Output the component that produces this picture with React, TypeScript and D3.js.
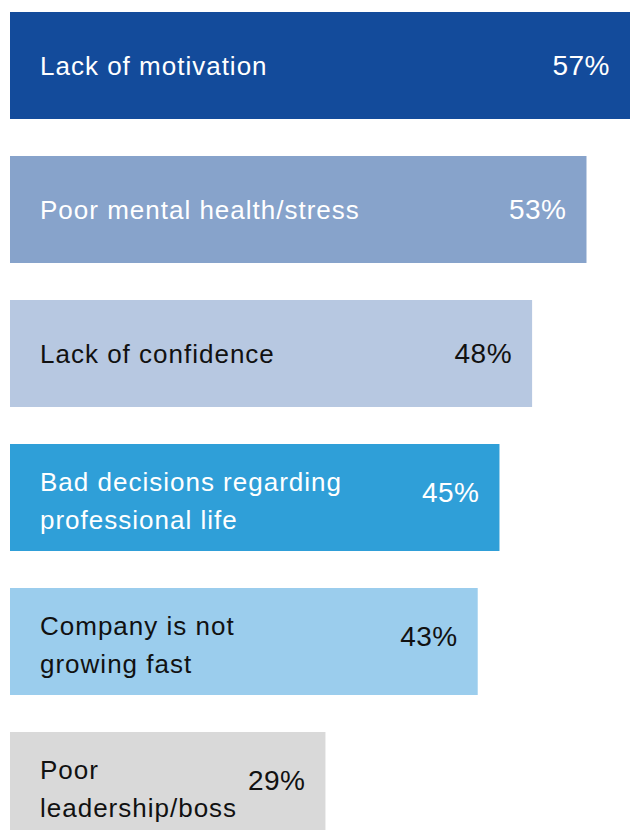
import React from "react";
import * as d3 from "d3";

const categories: string[] = [
  "Lack of motivation",
  "Poor mental health/stress",
  "Lack of confidence",
  "Bad decisions regarding professional life",
  "Company is not growing fast",
  "Poor leadership/boss",
];
const labelLines: string[][] = [
  ["Lack of motivation"],
  ["Poor mental health/stress"],
  ["Lack of confidence"],
  ["Bad decisions regarding", "professional life"],
  ["Company is not", "growing fast"],
  ["Poor", "leadership/boss"],
];
const values: number[] = [57, 53, 48, 45, 43, 29];
const barColors: string[] = ["#134b9b", "#87a3cb", "#b7c8e1", "#2f9fd8", "#9bcded", "#d9d9d9"];
const textColors: string[] = ["#ffffff", "#ffffff", "#111111", "#ffffff", "#111111", "#111111"];

const W = 630;
const H = 830;
const FONT = "'Liberation Sans', Arial, Helvetica, sans-serif";

export default function App() {
  const x = d3.scaleLinear().domain([0, 57]).range([10, 630]);
  const y = d3
    .scaleBand<string>()
    .domain(categories)
    .range([12, 839])
    .paddingInner(0.257)
    .paddingOuter(0);
  const bw = y.bandwidth();
  const lineH = 38;

  return (
    <svg
      width={W}
      height={H}
      style={{ position: "absolute", left: 0, top: 0, display: "block" }}
    >
      <rect width={W} height={H} fill="#ffffff" />
      {categories.map((c, i) => {
        const top = y(c) as number;
        const cy = top + bw / 2;
        const end = x(values[i]);
        const lines = labelLines[i];
        const n = lines.length;
        const shift = n > 1 ? 3 : 0;
        return (
          <g key={c}>
            <rect x={10} y={top} width={end - 10} height={bw} fill={barColors[i]} />
            <text
              fontFamily={FONT}
              fontSize={26}
              letterSpacing={1}
              fill={textColors[i]}
            >
              {lines.map((l, j) => (
                <tspan
                  key={j}
                  x={40}
                  y={cy + shift + (j - (n - 1) / 2) * lineH + 9.3}
                >
                  {l}
                </tspan>
              ))}
            </text>
            <text
              x={end - 20}
              y={cy + (n > 1 ? -6 : 0) + 10}
              textAnchor="end"
              fontFamily={FONT}
              fontSize={28}
              letterSpacing={0.5}
              fill={textColors[i]}
            >
              {d3.format("d")(values[i])}%
            </text>
          </g>
        );
      })}
    </svg>
  );
}
